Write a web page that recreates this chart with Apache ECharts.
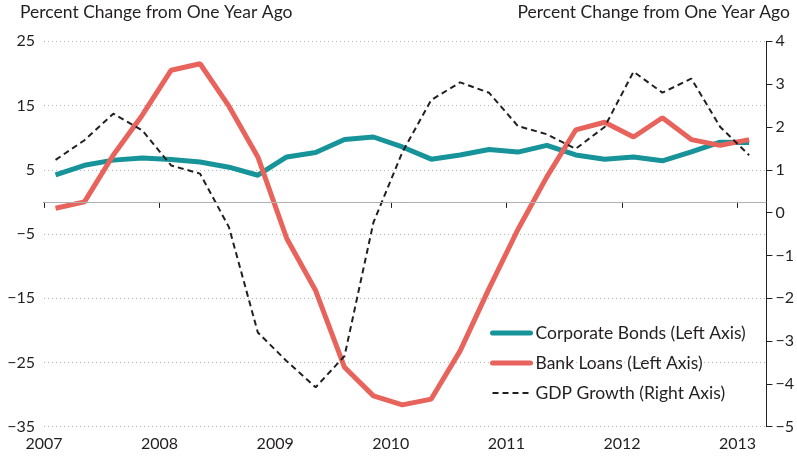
<!DOCTYPE html>
<html>
<head>
<meta charset="utf-8">
<script src="https://cdn.jsdelivr.net/npm/echarts@6/dist/echarts.min.js"></script>
<style>
  html, body { margin: 0; padding: 0; background: #fff; }
  #chart { width: 797px; height: 458px; }
</style>
</head>
<body>
<div id="chart"></div>
<script>
// quarterly dates (fraction of year)
var dates = [2007.1, 2007.35, 2007.6, 2007.85,
    2008.1, 2008.35, 2008.6, 2008.85,
    2009.1, 2009.35, 2009.6, 2009.85,
    2010.1, 2010.35, 2010.6, 2010.85,
    2011.1, 2011.35, 2011.6, 2011.85,
    2012.1, 2012.35, 2012.6, 2012.85,
    2013.1];

// left axis, percent
var corporateBonds = [4.2, 5.7, 6.5, 6.85, 6.6, 6.2, 5.4, 4.15,
    7.0, 7.7, 9.7, 10.1, 8.55, 6.65, 7.3, 8.15,
    7.75, 8.8, 7.3, 6.65, 7.0, 6.4, 7.8, 9.3, 9.25];
var bankLoans = [-1.0, 0.0, 7.3, 13.5, 20.5, 21.5, 14.9, 7.0,
    -5.7, -13.8, -25.75, -30.2, -31.6, -30.7, -23.2, -13.5,
    -4.3, 3.9, 11.2, 12.4, 10.1, 13.1, 9.7, 8.8, 9.7];
// right axis, percent
var gdpGrowth = [1.23, 1.69, 2.31, 1.92, 1.1, 0.91, -0.34, -2.8,
    -3.47, -4.08, -3.35, -0.23, 1.41, 2.63, 3.04, 2.8,
    2.02, 1.83, 1.49, 2.0, 3.29, 2.8, 3.13, 2.0, 1.34];

var years = [2007, 2008, 2009, 2010, 2011, 2012, 2013];

var textColor = '#231f20';
var fontName = 'Lato';
var teal = '#17939a';
var red = '#e8635b';

function pairs(vals) {
    return vals.map(function (v, i) { return [dates[i], v]; });
}
function minus(v) {
    return String(v).replace('-', '\u2212');
}

var myChart = echarts.init(document.getElementById('chart'));

var titleStyle = { fontFamily: fontName, fontSize: 17.5, fontWeight: 'normal', color: textColor };

var option = {
    animation: false,
    textStyle: { fontFamily: fontName, color: textColor },
    title: [{
        text: 'Percent Change from One Year Ago',
        left: 20, top: 3, padding: 0,
        textStyle: titleStyle
    }, {
        text: 'Percent Change from One Year Ago',
        right: 7, top: 3, padding: 0,
        textStyle: titleStyle
    }],
    legend: {
        orient: 'vertical',
        left: 490, top: 324, padding: 0,
        itemWidth: 38, itemHeight: 14, itemGap: 12,
        itemStyle: { opacity: 0 },
        textStyle: { fontFamily: fontName, fontSize: 17.5, color: textColor },
        data: [
            { name: 'Corporate Bonds (Left Axis)', lineStyle: { width: 5, color: teal, cap: 'round' } },
            { name: 'Bank Loans (Left Axis)', lineStyle: { width: 5, color: red, cap: 'round' } },
            { name: 'GDP Growth (Right Axis)', lineStyle: { width: 2, color: textColor, type: [6, 4] } }
        ]
    },
    grid: { left: 44, right: 30, top: 41.3, bottom: 31.3 },
    xAxis: {
        type: 'value',
        min: 2007, max: 2013.25, interval: 1,
        axisLine: { lineStyle: { color: textColor, width: 1 } },
        axisTick: { show: true, length: 6, customValues: years, lineStyle: { color: textColor } },
        axisLabel: {
            customValues: years, margin: 9, fontSize: 16, color: textColor, fontFamily: fontName,
            formatter: function (v) { return String(v); }
        },
        splitLine: { show: false }
    },
    yAxis: [{
        type: 'value',
        min: -35, max: 25, interval: 10,
        axisLine: { show: false },
        axisTick: { show: false },
        axisLabel: { margin: 9, fontSize: 16, color: textColor, fontFamily: fontName, formatter: minus },
        splitLine: { show: true, lineStyle: { color: '#b5b5b5', type: [1, 3], width: 1 } }
    }, {
        type: 'value',
        min: -5, max: 4, interval: 1,
        position: 'right',
        axisLine: { show: true, lineStyle: { color: textColor, width: 1 } },
        axisTick: { show: true, length: 6, lineStyle: { color: textColor } },
        axisLabel: { margin: 9, fontSize: 16, color: textColor, fontFamily: fontName, formatter: minus },
        splitLine: { show: false }
    }],
    series: [{
        name: 'Corporate Bonds (Left Axis)',
        type: 'line',
        yAxisIndex: 0,
        symbol: 'none',
        color: teal,
        lineStyle: { width: 5, color: teal },
        data: pairs(corporateBonds),
        markLine: {
            silent: true,
            symbol: 'none',
            label: { show: false },
            lineStyle: { color: '#b0b0b0', type: 'solid', width: 1 },
            data: [{ yAxis: 0 }]
        }
    }, {
        name: 'Bank Loans (Left Axis)',
        type: 'line',
        yAxisIndex: 0,
        symbol: 'none',
        color: red,
        lineStyle: { width: 5, color: red },
        data: pairs(bankLoans)
    }, {
        name: 'GDP Growth (Right Axis)',
        type: 'line',
        yAxisIndex: 1,
        symbol: 'none',
        color: textColor,
        lineStyle: { width: 2, color: textColor, type: [6, 4] },
        data: pairs(gdpGrowth)
    }]
};

myChart.setOption(option);
</script>
</body>
</html>
